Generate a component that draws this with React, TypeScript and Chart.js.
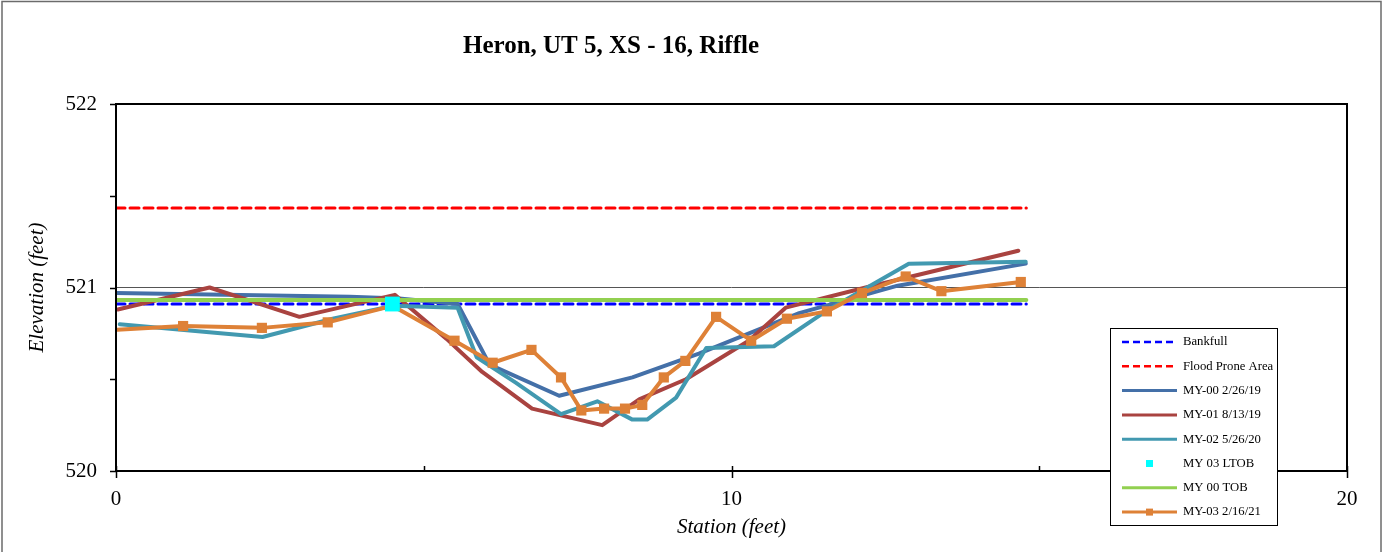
import React, { useEffect, useRef } from "react";
import { Chart, registerables } from "chart.js";

Chart.register(...registerables);

const chartTitle = "Heron, UT 5, XS - 16, Riffle";
const xAxisTitle = "Station (feet)";
const yAxisTitle = "Elevation (feet)";
const xTickLabels = ["0", "10", "20"];
const yTickLabels = ["520", "521", "522"];

const bankfullX = [0, 14.79];
const bankfullY = [520.91, 520.91];
const floodX = [0, 14.79];
const floodY = [521.433, 521.433];
const tobX = [0, 14.79];
const tobY = [520.932, 520.932];
const ltobX = [4.49];
const ltobY = [520.91];

const my00X = [0, 3.8, 4.6, 5.55, 6.07, 7.2, 8.39, 9.47, 11.1, 12.7, 14.78];
const my00Y = [520.97, 520.95, 520.94, 520.91, 520.58, 520.41, 520.51, 520.64, 520.86, 521.01, 521.13];

const my01X = [0.03, 1.52, 2.98, 4.53, 5.37, 5.95, 6.76, 7.9, 8.5, 9.26, 10.28, 10.88, 12.18, 14.66];
const my01Y = [520.88, 521.0, 520.84, 520.96, 520.72, 520.54, 520.34, 520.25, 520.39, 520.5, 520.71, 520.89, 521.0, 521.2];

const my02X = [0.06, 2.38, 3.52, 4.49, 5.55, 5.86, 6.5, 7.23, 7.82, 8.39, 8.63, 9.1, 9.59, 10.69, 11.53, 12.88, 14.78];
const my02Y = [520.8, 520.73, 520.83, 520.9, 520.89, 520.62, 520.48, 520.31, 520.38, 520.28, 520.28, 520.4, 520.67, 520.68, 520.87, 521.13, 521.14];

const my03X = [0.02, 1.09, 2.37, 3.44, 4.49, 5.5, 6.12, 6.75, 7.23, 7.56, 7.93, 8.27, 8.55, 8.9, 9.25, 9.75, 10.32, 10.9, 11.55, 12.12, 12.83, 13.41, 14.7];
const my03Y = [520.77, 520.79, 520.78, 520.81, 520.9, 520.71, 520.59, 520.66, 520.51, 520.33, 520.34, 520.34, 520.36, 520.51, 520.6, 520.84, 520.71, 520.83, 520.87, 520.97, 521.06, 520.98, 521.03];

const pts = (xs: number[], ys: number[]) => xs.map((x, i) => ({ x, y: ys[i] }));

const C_BANK = "#0000FF";
const C_FLOOD = "#FF0000";
const C_00 = "#4470A8";
const C_01 = "#A94340";
const C_02 = "#4299B0";
const C_LTOB = "#00FFFF";
const C_TOB = "#92D050";
const C_03 = "#DE8137";

const SERIF = "'Liberation Serif', 'Times New Roman', serif";

type LegendItem = { label: string; color: string; kind: "dash" | "line" | "marker" | "linemarker" };
const legendItems: LegendItem[] = [
  { label: "Bankfull", color: C_BANK, kind: "dash" },
  { label: "Flood Prone Area", color: C_FLOOD, kind: "dash" },
  { label: "MY-00 2/26/19", color: C_00, kind: "line" },
  { label: "MY-01 8/13/19", color: C_01, kind: "line" },
  { label: "MY-02 5/26/20", color: C_02, kind: "line" },
  { label: "MY 03 LTOB", color: C_LTOB, kind: "marker" },
  { label: "MY 00 TOB", color: C_TOB, kind: "line" },
  { label: "MY-03 2/16/21", color: C_03, kind: "linemarker" },
];

const decorPlugin = {
  id: "decor",
  beforeDraw(chart: any) {
    const { ctx, width, height } = chart;
    ctx.save();
    ctx.fillStyle = "#ffffff";
    ctx.fillRect(0, 0, width, height);
    ctx.strokeStyle = "#6b6b6b";
    ctx.lineWidth = 1.5;
    ctx.strokeRect(2, 1.5, 1379, height + 10);
    ctx.restore();
  },
  afterDatasetsDraw(chart: any) {
    const { ctx, chartArea } = chart;
    const xs = chart.scales.x;
    const ys = chart.scales.y;
    ctx.save();
    ctx.strokeStyle = "#000000";
    ctx.lineWidth = 2;
    ctx.strokeRect(chartArea.left, chartArea.top, chartArea.right - chartArea.left, chartArea.bottom - chartArea.top);
    ctx.lineWidth = 1.5;
    ctx.beginPath();
    for (let v = 520; v <= 522.001; v += 0.5) {
      const py = Math.round(ys.getPixelForValue(v)) + 0.5;
      ctx.moveTo(chartArea.left - 6, py);
      ctx.lineTo(chartArea.left, py);
    }
    for (let v = 0; v <= 20.001; v += 5) {
      const px = Math.round(xs.getPixelForValue(v)) + 0.5;
      const major = Math.abs(v % 10) < 1e-6;
      ctx.moveTo(px, major ? chartArea.bottom + 7 : chartArea.bottom);
      ctx.lineTo(px, chartArea.bottom - 5);
    }
    ctx.stroke();
    ctx.restore();
  },
  afterDraw(chart: any) {
    const { ctx } = chart;
    ctx.save();
    ctx.fillStyle = "#000000";
    ctx.font = `bold 25px ${SERIF}`;
    ctx.textAlign = "center";
    ctx.textBaseline = "middle";
    ctx.fillText(chartTitle, 611, 47);
    const bx = 1110.5, by = 328.5, bw = 167, bh = 197;
    ctx.fillStyle = "#ffffff";
    ctx.fillRect(bx, by, bw, bh);
    ctx.strokeStyle = "#000000";
    ctx.lineWidth = 1;
    ctx.strokeRect(bx, by, bw, bh);
    ctx.font = `12.7px ${SERIF}`;
    ctx.textAlign = "left";
    ctx.textBaseline = "middle";
    legendItems.forEach((it, i) => {
      const cy = 342 + i * 24.3;
      const x1 = 1122, x2 = 1177;
      if (it.kind === "dash" || it.kind === "line" || it.kind === "linemarker") {
        ctx.strokeStyle = it.color;
        ctx.lineWidth = it.kind === "dash" ? 2.5 : 3;
        ctx.setLineDash(it.kind === "dash" ? [7, 4] : []);
        ctx.beginPath();
        ctx.moveTo(x1, cy);
        ctx.lineTo(x2, cy);
        ctx.stroke();
        ctx.setLineDash([]);
      }
      if (it.kind === "marker" || it.kind === "linemarker") {
        ctx.fillStyle = it.color;
        ctx.fillRect((x1 + x2) / 2 - 3.5, cy - 3.5, 7, 7);
      }
      ctx.fillStyle = "#000000";
      ctx.fillText(it.label, 1183, cy);
    });
    ctx.restore();
  },
};

export default function App() {
  const ref = useRef<HTMLCanvasElement>(null);
  useEffect(() => {
    if (!ref.current) return;
    const chart = new Chart(ref.current, {
      type: "line",
      data: {
        datasets: [
          {
            label: "MY 03 LTOB",
            data: pts(ltobX, ltobY),
            showLine: false,
            pointStyle: "rect",
            pointRadius: 10.5,
            pointBackgroundColor: C_LTOB,
            pointBorderColor: C_LTOB,
            pointBorderWidth: 0,
            borderColor: C_LTOB,
          },
          {
            label: "MY-03 2/16/21",
            data: pts(my03X, my03Y),
            borderColor: C_03,
            borderWidth: 4,
            pointStyle: "rect",
            pointRadius: (c: any) => (c.dataIndex === 0 ? 0 : 7.2),
            pointBackgroundColor: C_03,
            pointBorderColor: C_03,
            pointBorderWidth: 0,
          },
          {
            label: "MY 00 TOB",
            data: pts(tobX, tobY),
            borderColor: C_TOB,
            borderWidth: 4,
            pointRadius: 0,
          },
          {
            label: "MY-02 5/26/20",
            data: pts(my02X, my02Y),
            borderColor: C_02,
            borderWidth: 4,
            pointRadius: 0,
          },
          {
            label: "MY-01 8/13/19",
            data: pts(my01X, my01Y),
            borderColor: C_01,
            borderWidth: 4,
            pointRadius: 0,
          },
          {
            label: "MY-00 2/26/19",
            data: pts(my00X, my00Y),
            borderColor: C_00,
            borderWidth: 4,
            pointRadius: 0,
          },
          {
            label: "Flood Prone Area",
            data: pts(floodX, floodY),
            borderColor: C_FLOOD,
            borderWidth: 3,
            borderDash: [9, 5],
            pointRadius: 0,
          },
          {
            label: "Bankfull",
            data: pts(bankfullX, bankfullY),
            borderColor: C_BANK,
            borderWidth: 3,
            borderDash: [9, 5],
            pointRadius: 0,
          },
        ],
      },
      options: {
        animation: false,
        responsive: false,
        maintainAspectRatio: false,
        layout: { padding: { left: 0, top: 104, right: 37, bottom: 0 } },
        plugins: {
          legend: { display: false },
          title: { display: false },
          tooltip: { enabled: false },
        },
        elements: { line: { tension: 0, borderCapStyle: "round", borderJoinStyle: "round" } },
        scales: {
          x: {
            type: "linear",
            min: 0,
            max: 20,
            afterBuildTicks: (s: any) => {
              s.ticks = [0, 5, 10, 15, 20].map((v) => ({ value: v }));
            },
            afterFit: (s: any) => {
              s.height = 81;
            },
            grid: { display: false, drawTicks: false },
            border: { display: false },
            ticks: {
              padding: 16,
              color: "#000000",
              font: { family: SERIF, size: 21 },
              maxRotation: 0,
              autoSkip: false,
              callback: (v: any) => (xTickLabels.includes(String(v)) ? String(v) : ""),
            },
            title: {
              display: true,
              text: xAxisTitle,
              color: "#000000",
              font: { family: SERIF, size: 21, style: "italic" },
              padding: { top: 0, bottom: 12 },
            },
          },
          y: {
            type: "linear",
            min: 520,
            max: 522,
            afterBuildTicks: (s: any) => {
              s.ticks = [520, 520.5, 521, 521.5, 522].map((v) => ({ value: v }));
            },
            afterFit: (s: any) => {
              s.width = 116;
            },
            grid: {
              drawTicks: false,
              color: (c: any) => (c.tick && Math.abs(c.tick.value - 521) < 1e-6 ? "#555555" : "rgba(0,0,0,0)"),
              lineWidth: 1,
            },
            border: { display: false },
            ticks: {
              padding: 19,
              color: "#000000",
              font: { family: SERIF, size: 21 },
              autoSkip: false,
              callback: (v: any) => (yTickLabels.includes(String(v)) ? String(v) : ""),
            },
            title: {
              display: true,
              text: yAxisTitle,
              color: "#000000",
              font: { family: SERIF, size: 21, style: "italic" },
              padding: { top: 25, bottom: 0 },
            },
          },
        },
      },
      plugins: [decorPlugin],
    });
    return () => chart.destroy();
  }, []);
  return (
    <div style={{ position: "fixed", left: 0, top: 0, width: 1384, height: 552, background: "#fff" }}>
      <canvas ref={ref} width={1384} height={552} style={{ display: "block", width: 1384, height: 552 }} />
    </div>
  );
}
